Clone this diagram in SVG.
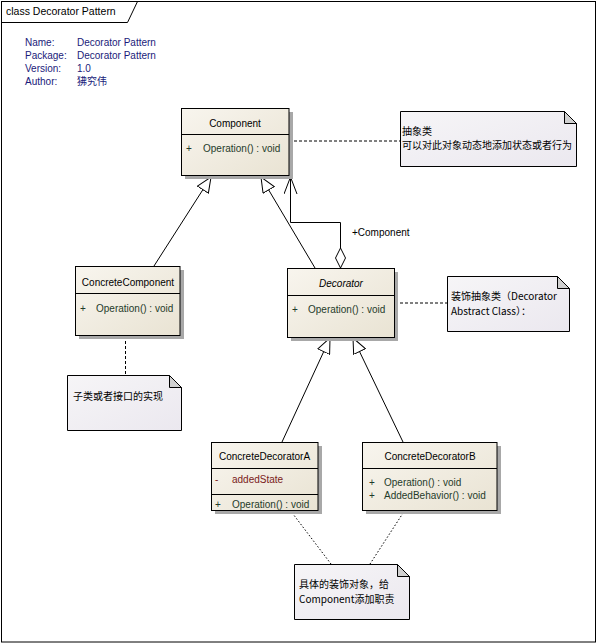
<svg xmlns="http://www.w3.org/2000/svg" width="601" height="644" viewBox="0 0 601 644">
<defs>
<linearGradient id="cls" x1="0" y1="0" x2="1" y2="1">
<stop offset="0" stop-color="#f8f5ee"/>
<stop offset="1" stop-color="#e9e3d3"/>
</linearGradient>
<linearGradient id="nt" x1="0" y1="0" x2="1" y2="1">
<stop offset="0" stop-color="#f6f5f7"/>
<stop offset="1" stop-color="#ebe8ef"/>
</linearGradient>
<marker id="gen" viewBox="0 0 16 14" refX="15.5" refY="7" markerWidth="16" markerHeight="14" markerUnits="userSpaceOnUse" orient="auto">
<path d="M0.5,0.5 L15.5,7 L0.5,13.5 Z" fill="#fff" stroke="#000" stroke-width="1"/>
</marker>
<marker id="open" viewBox="0 0 18 14" refX="17" refY="7" markerWidth="18" markerHeight="14" markerUnits="userSpaceOnUse" orient="auto">
<path d="M0,0.5 L17,7 L0,13.5" fill="none" stroke="#000" stroke-width="1"/>
</marker>
</defs>
<style>
text{font-family:"Liberation Sans","Noto Sans CJK SC",sans-serif;font-size:10px;fill:#000}
.meta{fill:#1a1a7a}
.op{fill:#1f3b2a}
.attr{fill:#7a1a1a}
.cjk{font-family:"Noto Sans CJK SC","Liberation Sans",sans-serif}
.box{fill:url(#cls);stroke:#000;stroke-width:1}
.shadow{fill:#a8a8a8}
.div{stroke:#000;stroke-width:1}
.note{fill:url(#nt);stroke:#000;stroke-width:1}
.fold{fill:#d0d0d0;stroke:#000;stroke-width:1}
.ln{fill:none;stroke:#000;stroke-width:1}
.dash{fill:none;stroke:#000;stroke-width:1;stroke-dasharray:3 2}
.dot{fill:none;stroke:#000;stroke-width:1;stroke-dasharray:1.5 2}
</style>
<rect x="0" y="0" width="601" height="644" fill="#fff"/>
<g id="frame">
<rect x="1.5" y="1.5" width="594" height="640.5" fill="none" stroke="#000" stroke-width="1"/>
<path d="M1.5,22.5 H127.5 L137.5,1.5" fill="none" stroke="#000" stroke-width="1"/>
<text x="6" y="15" style="font-size:10.5px">class Decorator Pattern</text>
</g>
<g id="meta">
<text class="meta" x="25" y="46">Name:</text>
<text class="meta" x="77" y="46">Decorator Pattern</text>
<text class="meta" x="25" y="58.5">Package:</text>
<text class="meta" x="77" y="58.5">Decorator Pattern</text>
<text class="meta" x="25" y="71.5">Version:</text>
<text class="meta" x="77" y="71.5">1.0</text>
<text class="meta" x="25" y="84.5">Author:</text>
<text class="meta cjk" x="77" y="84.5">狒究伟</text>
</g>
<g id="connectors">
<path class="dash" d="M289,141 H400"/>
<path class="dash" d="M395,303 H447"/>
<path class="dash" d="M125.5,336 V375"/>
<path class="dot" d="M290,510 L331,564"/>
<path class="dot" d="M405,510 L370,564"/>
<path class="ln" d="M154,266 L211,177" marker-end="url(#gen)"/>
<path class="ln" d="M315,268 L261,177" marker-end="url(#gen)"/>
<path class="ln" d="M282,442 L330,338" marker-end="url(#gen)"/>
<path class="ln" d="M403,442 L353,338" marker-end="url(#gen)"/>
<path class="ln" d="M340.5,248 V222.5 H290.5 V177" marker-end="url(#open)"/>
<path d="M340.5,268 L335.5,258 L340.5,248 L345.5,258 Z" fill="#fff" stroke="#000" stroke-width="1"/>
<text x="352" y="235.5">+Component</text>
</g>
<g id="Component">
<rect class="shadow" x="185" y="112" width="108" height="67"/>
<rect class="box" x="181.5" y="108.5" width="107.5" height="67"/>
<line class="div" x1="181.5" y1="134.5" x2="289" y2="134.5"/>
<text x="235" y="127" text-anchor="middle">Component</text>
<text class="op" x="186" y="152">+</text>
<text class="op" x="203" y="152">Operation() : void</text>
</g>
<g id="ConcreteComponent">
<rect class="shadow" x="79" y="270" width="105" height="69"/>
<rect class="box" x="75.5" y="266.5" width="104.5" height="69"/>
<line class="div" x1="75.5" y1="293.5" x2="180" y2="293.5"/>
<text x="128" y="286" text-anchor="middle">ConcreteComponent</text>
<text class="op" x="80" y="311.5">+</text>
<text class="op" x="96" y="311.5">Operation() : void</text>
</g>
<g id="Decorator">
<rect class="shadow" x="291" y="272" width="107" height="69"/>
<rect class="box" x="287.5" y="268.5" width="107" height="69"/>
<line class="div" x1="287.5" y1="295.5" x2="394.5" y2="295.5"/>
<text x="341" y="286.5" text-anchor="middle" font-style="italic">Decorator</text>
<text class="op" x="292" y="313">+</text>
<text class="op" x="308" y="313">Operation() : void</text>
</g>
<g id="ConcreteDecoratorA">
<rect class="shadow" x="215" y="446" width="107" height="68"/>
<rect class="box" x="211.5" y="442.5" width="106.5" height="68"/>
<line class="div" x1="211.5" y1="468.5" x2="318" y2="468.5"/>
<line class="div" x1="211.5" y1="494.5" x2="318" y2="494.5"/>
<text x="264.5" y="460" text-anchor="middle">ConcreteDecoratorA</text>
<text class="attr" x="215" y="482.5">-</text>
<text class="attr" x="232" y="482.5">addedState</text>
<text class="op" x="215" y="507.5">+</text>
<text class="op" x="232" y="507.5">Operation() : void</text>
</g>
<g id="ConcreteDecoratorB">
<rect class="shadow" x="366" y="446" width="135" height="68"/>
<rect class="box" x="362.5" y="442.5" width="134.5" height="68"/>
<line class="div" x1="362.5" y1="468.5" x2="497" y2="468.5"/>
<text x="430" y="460" text-anchor="middle">ConcreteDecoratorB</text>
<text class="op" x="369" y="485.5">+</text>
<text class="op" x="384" y="485.5">Operation() : void</text>
<text class="op" x="369" y="498.5">+</text>
<text class="op" x="384" y="498.5">AddedBehavior() : void</text>
</g>
<g id="note-component">
<path class="note" d="M400.5,111.5 H564.5 L576.5,123.5 V166.5 H400.5 Z"/>
<path class="fold" d="M564.5,111.5 V123.5 H576.5 Z"/>
<text class="cjk" x="402" y="134.5">抽象类</text>
<text class="cjk" x="402" y="148.5">可以对此对象动态地添加状态或者行为</text>
</g>
<g id="note-decorator">
<path class="note" d="M447.5,276.5 H557.5 L569.5,288.5 V331.5 H447.5 Z"/>
<path class="fold" d="M557.5,276.5 V288.5 H569.5 Z"/>
<text class="cjk" x="451" y="300">装饰抽象类（Decorator</text>
<text class="cjk" x="451" y="314.5">Abstract Class）：</text>
</g>
<g id="note-concrete">
<path class="note" d="M67.5,375.5 H169.5 L181.5,387.5 V430.5 H67.5 Z"/>
<path class="fold" d="M169.5,375.5 V387.5 H181.5 Z"/>
<text class="cjk" x="73" y="399.5">子类或者接口的实现</text>
</g>
<g id="note-concretedecorator">
<path class="note" d="M294.5,564.5 H397.5 L409.5,576.5 V619.5 H294.5 Z"/>
<path class="fold" d="M397.5,564.5 V576.5 H409.5 Z"/>
<text class="cjk" x="299" y="588">具体的装饰对象，给</text>
<text class="cjk" x="299" y="602.5">Component添加职责</text>
</g>
</svg>
